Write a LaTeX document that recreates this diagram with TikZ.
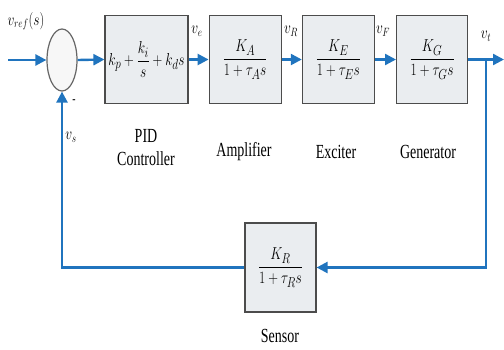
\documentclass[tikz,border=0pt]{standalone}
\usepackage{amsmath}
\usepackage{graphicx}
\usepackage{fontspec}
\setmainfont[FakeStretch=0.7]{Liberation Serif}
\usepackage{tikz}
\usetikzlibrary{shapes.geometric,arrows.meta,positioning}
\definecolor{lineblue}{RGB}{32,116,190}
\definecolor{boxgray}{RGB}{234,237,240}
\newcommand{\condmath}[1]{\scalebox{0.78}[1]{$#1$}}
\tikzset{
  every node/.style={
    font=\fontsize{19}{22}\selectfont
  },
  block/.style={
    shape=rectangle,
    draw=black!70,
    line width=1.2pt,
    fill=boxgray,
    minimum height=88pt,
    inner sep=0pt
  },
  sumjunction/.style={
    shape=ellipse,
    draw=black!60,
    line width=1.2pt,
    fill=gray!6,
    minimum width=30pt,
    minimum height=62pt,
    inner sep=0pt
  },
  signal/.style={
    draw=lineblue,
    line width=2.4pt,
    -{Triangle[length=11pt,width=11pt]}
  },
  caption/.style={
    align=center,
    font=\fontsize{20}{23}\selectfont
  },
  varlabel/.style={
    font=\fontsize{18}{20}\selectfont
  }
}

\begin{document}
\begin{tikzpicture}[x=1pt,y=-1pt,node distance=20pt]
    \useasboundingbox (0,0) rectangle (504,349);
    \node [sumjunction] (sum) at (62,60) {};
    \node [block, minimum width=83pt] (pid) at (146.5,59.5)
      {\condmath{k_p+\dfrac{k_i}{s}+k_d s}};
    \node [block, minimum width=72pt, right=20pt of pid] (amplifier)
      {\condmath{\dfrac{K_A}{1+\tau_A s}}};
    \node [block, minimum width=72pt, right=20pt of amplifier] (exciter)
      {\condmath{\dfrac{K_E}{1+\tau_E s}}};
    \node [block, minimum width=71pt, right=21pt of exciter] (generator)
      {\condmath{\dfrac{K_G}{1+\tau_G s}}};
    \node [block, minimum width=71pt, minimum height=89pt] (sensor) at (280.5,267.5)
      {\condmath{\dfrac{K_R}{1+\tau_R s}}};

    \node [caption] (pidcap) at (146,148) {PID\\Controller};
    \node [caption] (ampcap) at (244,152) {Amplifier};
    \node [caption] (exccap) at (336,152) {Exciter};
    \node [caption] (gencap) at (428,152) {Generator};
    \node [caption] (sencap) at (280,336) {Sensor};

    \coordinate (in) at (8,60);
    \coordinate (out) at (504,59.5);
    \coordinate (branch) at (486,59.5);
    \coordinate (corner1) at (486,267.5);
    \coordinate (corner2) at (62,267.5);

    \draw [signal] (in) -- (sum.west);
    \draw [signal] (sum.east) -- (pid.west);
    \draw [signal] (pid.east) -- (amplifier.west);
    \draw [signal] (amplifier.east) -- (exciter.west);
    \draw [signal] (exciter.east) -- (generator.west);
    \draw [signal] (generator.east) -- (out);
    \draw [signal] (branch) -- (corner1) -- (sensor.east);
    \draw [signal] (sensor.west) -- (corner2) -- (sum.south);

    \node [varlabel] (vref) at (26,21) {\condmath{v_{ref}(s)}};
    \node [varlabel] (ve) at (197,31) {\condmath{v_e}};
    \node [varlabel] (vr) at (291,31) {\condmath{v_R}};
    \node [varlabel] (vf) at (383,31) {\condmath{v_F}};
    \node [varlabel] (vt) at (486,36) {\condmath{v_t}};
    \node [varlabel] (vs) at (71,137) {\condmath{v_s}};
    \node [font=\fontsize{14}{14}\selectfont] (minus) at (74,102) {-};
\end{tikzpicture}
\end{document}
